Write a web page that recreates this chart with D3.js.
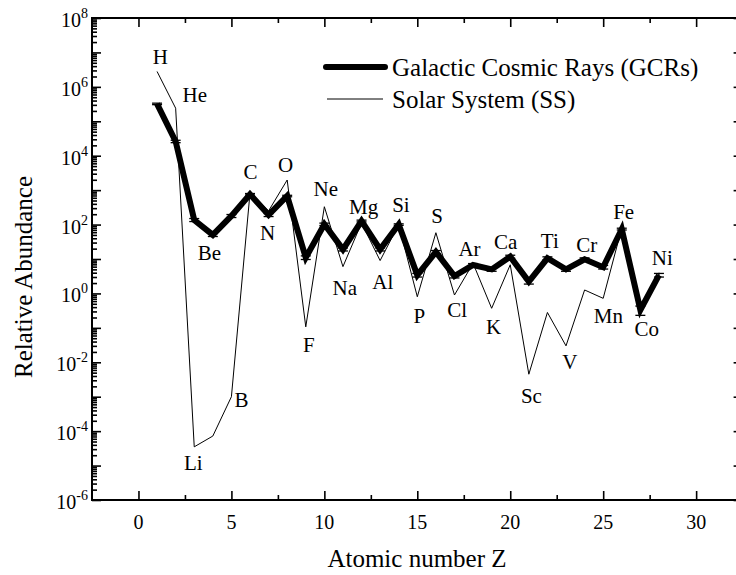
<!DOCTYPE html>
<html>
<head>
<meta charset="utf-8">
<script src="https://cdn.jsdelivr.net/npm/d3@7/dist/d3.min.js"></script>
<style>
  body { margin: 0; background: #fff; }
  svg { display: block; }
  svg text { font-family: 'Liberation Serif', 'DejaVu Serif', 'Times New Roman', Times, serif; fill: #000; }
</style>
</head>
<body>
<svg id="chart" width="736" height="575"></svg>
<script>
// Elemental abundances, normalised to Si = 100
const elements = ["H","He","Li","Be","B","C","N","O","F","Ne","Na","Mg","Al","Si",
                  "P","S","Cl","Ar","K","Ca","Sc","Ti","V","Cr","Mn","Fe","Co","Ni"];
const atomicNumber = [1,2,3,4,5,6,7,8,9,10,11,12,13,14,15,16,17,18,19,20,21,22,23,24,25,26,27,28];

// Galactic cosmic rays
const gcrAbundance = [3.2e5, 2.6e4, 136, 50, 178, 760, 190, 675, 11, 102, 19, 127, 19, 100,
                      3.4, 16, 3.2, 6.7, 5.0, 11.7, 2.2, 10.5, 5.0, 9.8, 5.8, 74, 0.33, 3.4];
// relative uncertainty of each GCR value
const gcrError = [0.05, 0.08, 0.1, 0.1, 0.1, 0.05, 0.1, 0.05, 0.12, 0.08, 0.1, 0.06, 0.1, 0.05,
                  0.12, 0.1, 0.12, 0.1, 0.12, 0.1, 0.15, 0.1, 0.12, 0.1, 0.12, 0.06, 0.3, 0.12];

// Solar system
const ssAbundance = [2.8e6, 2.4e5, 3.5e-5, 7.2e-5, 1.0e-3, 830, 250, 1970, 0.107, 330, 6.0, 112, 9.0, 100,
                     0.8, 58, 0.9, 7.5, 0.37, 6.8, 0.0045, 0.28, 0.03, 1.26, 0.72, 80, 0.25, 4.0];

// Where each element symbol sits (atomic number, abundance)
const labelZ = [1.17, 3.03, 2.95, 3.82, 5.54, 6.03, 6.95, 7.92, 9.16, 10.08, 11.10, 12.11, 13.14, 14.12,
                15.11, 16.07, 17.15, 17.81, 19.11, 19.76, 21.14, 22.13, 23.21, 24.11, 25.28, 26.10, 27.34, 28.18];
const labelValue = [7.4e6, 5.8e5, 1.2e-5, 15.5, 8.1e-4, 3.4e3, 60, 5.4e3, 0.033, 1.1e3, 1.5, 330, 2.2, 370,
                    0.23, 180, 0.33, 20, 0.11, 31, 1.1e-3, 34, 0.0105, 26, 0.23, 235, 0.093, 10.7];

const xMajorTicks = [0, 5, 10, 15, 20, 25, 30];
const xMinorTicks = [2.5, 7.5, 12.5, 17.5, 22.5, 27.5];
const yLabelExponents = [8, 6, 4, 2, 0, -2, -4, -6];
const seriesNames = ["Galactic Cosmic Rays (GCRs)", "Solar System (SS)"];
const xTitle = "Atomic number Z";
const yTitle = "Relative Abundance";

const serif = "'Liberation Serif', 'DejaVu Serif', 'Times New Roman', Times, serif";
const svg = d3.select("#chart").attr("font-family", serif);
const plotLeft = 92, plotRight = 742.6, plotTop = 18, plotBottom = 500;

const x = d3.scaleLinear().domain([-2.5, 32.5]).range([plotLeft, plotRight]);
const y = d3.scaleLog().domain([1e-6, 1e8]).range([plotBottom, plotTop]);

// log ticks: decades (major) and 2..9 multiples (minor)
const yMajor = d3.range(-6, 9).map(e => Math.pow(10, e));
const yMinor = [];
d3.range(-6, 8).forEach(e => { for (let k = 2; k <= 9; k++) yMinor.push(k * Math.pow(10, e)); });

const axisStyle = g => {
  g.attr("font-family", null).attr("font-size", null);
  g.select(".domain").remove();
  g.selectAll(".tick line").attr("stroke", "#000").attr("stroke-width", 1.6);
  g.selectAll(".tick text").remove();
};

// x ticks, bottom and top, pointing inward
svg.append("g").attr("transform", `translate(0,${plotBottom})`)
  .call(d3.axisBottom(x).tickValues(xMajorTicks).tickSize(-9).tickSizeOuter(0)).call(axisStyle);
svg.append("g").attr("transform", `translate(0,${plotBottom})`)
  .call(d3.axisBottom(x).tickValues(xMinorTicks).tickSize(-5).tickSizeOuter(0)).call(axisStyle);
svg.append("g").attr("transform", `translate(0,${plotTop})`)
  .call(d3.axisTop(x).tickValues(xMajorTicks).tickSize(-9).tickSizeOuter(0)).call(axisStyle);
svg.append("g").attr("transform", `translate(0,${plotTop})`)
  .call(d3.axisTop(x).tickValues(xMinorTicks).tickSize(-5).tickSizeOuter(0)).call(axisStyle);

// y ticks, left and right, pointing inward
svg.append("g").attr("transform", `translate(${plotLeft},0)`)
  .call(d3.axisLeft(y).tickValues(yMajor).tickSize(-9).tickSizeOuter(0)).call(axisStyle);
svg.append("g").attr("transform", `translate(${plotLeft},0)`)
  .call(d3.axisLeft(y).tickValues(yMinor).tickSize(-5).tickSizeOuter(0)).call(axisStyle);
svg.append("g").attr("transform", `translate(${plotRight},0)`)
  .call(d3.axisRight(y).tickValues(yMajor).tickSize(-9).tickSizeOuter(0)).call(axisStyle);
svg.append("g").attr("transform", `translate(${plotRight},0)`)
  .call(d3.axisRight(y).tickValues(yMinor).tickSize(-5).tickSizeOuter(0)).call(axisStyle);

// frame
svg.append("rect")
  .attr("x", plotLeft).attr("y", plotTop)
  .attr("width", plotRight - plotLeft).attr("height", plotBottom - plotTop)
  .attr("fill", "none").attr("stroke", "#000").attr("stroke-width", 2);

// x tick labels
svg.append("g").selectAll("text").data(xMajorTicks).join("text")
  .attr("x", d => x(d)).attr("y", plotBottom + 29)
  .attr("text-anchor", "middle").attr("font-size", 20)
  .text(d => d);

// y tick labels as powers of ten
const yl = svg.append("g").selectAll("text").data(yLabelExponents).join("text")
  .attr("x", 88).attr("y", d => y(Math.pow(10, d)) + 9)
  .attr("text-anchor", "end").attr("font-size", 20);
yl.append("tspan").text("10");
yl.append("tspan").attr("font-size", 14).attr("dy", -9).text(d => d < 0 ? "-" + (-d) : d);

// axis titles
svg.append("text").attr("x", 417).attr("y", 567)
  .attr("text-anchor", "middle").attr("font-size", 25).text(xTitle);
svg.append("text").attr("transform", "translate(32,277) rotate(-90)")
  .attr("text-anchor", "middle").attr("font-size", 25).text(yTitle);

const gcr = atomicNumber.map((z, i) => ({ z, v: gcrAbundance[i], e: gcrError[i] }));
const ss = atomicNumber.map((z, i) => ({ z, v: ssAbundance[i] }));
const line = d3.line().x(d => x(d.z)).y(d => y(d.v));

// solar system: thin line
svg.append("path").datum(ss).attr("d", line)
  .attr("fill", "none").attr("stroke", "#000").attr("stroke-width", 1);

// cosmic rays: thick line
svg.append("path").datum(gcr).attr("d", line)
  .attr("fill", "none").attr("stroke", "#000").attr("stroke-width", 6)
  .attr("stroke-linejoin", "miter").attr("stroke-miterlimit", 4);

// error bars on cosmic-ray points
const eb = svg.append("g").attr("stroke", "#000").attr("stroke-width", 1.3);
eb.selectAll(".v").data(gcr).join("line")
  .attr("x1", d => x(d.z)).attr("x2", d => x(d.z))
  .attr("y1", d => y(d.v * (1 - d.e))).attr("y2", d => y(d.v * (1 + d.e)));
eb.selectAll(".lo").data(gcr).join("line")
  .attr("x1", d => x(d.z) - 5).attr("x2", d => x(d.z) + 5)
  .attr("y1", d => y(d.v * (1 - d.e))).attr("y2", d => y(d.v * (1 - d.e)));
eb.selectAll(".hi").data(gcr).join("line")
  .attr("x1", d => x(d.z) - 5).attr("x2", d => x(d.z) + 5)
  .attr("y1", d => y(d.v * (1 + d.e))).attr("y2", d => y(d.v * (1 + d.e)));

// element symbols
svg.append("g").selectAll("text").data(elements).join("text")
  .attr("x", (d, i) => x(labelZ[i])).attr("y", (d, i) => y(labelValue[i]))
  .attr("dy", "0.35em").attr("text-anchor", "middle").attr("font-size", 21)
  .text(d => d);

// legend
const legend = svg.append("g");
legend.append("line").attr("x1", 326).attr("x2", 385).attr("y1", 67).attr("y2", 67)
  .attr("stroke", "#000").attr("stroke-width", 6).attr("stroke-linecap", "round");
legend.append("line").attr("x1", 327).attr("x2", 383).attr("y1", 99).attr("y2", 99)
  .attr("stroke", "#000").attr("stroke-width", 1);
legend.append("text").attr("x", 392).attr("y", 76).attr("font-size", 25).text(seriesNames[0]);
legend.append("text").attr("x", 392).attr("y", 108).attr("font-size", 25).text(seriesNames[1]);
</script>
</body>
</html>
